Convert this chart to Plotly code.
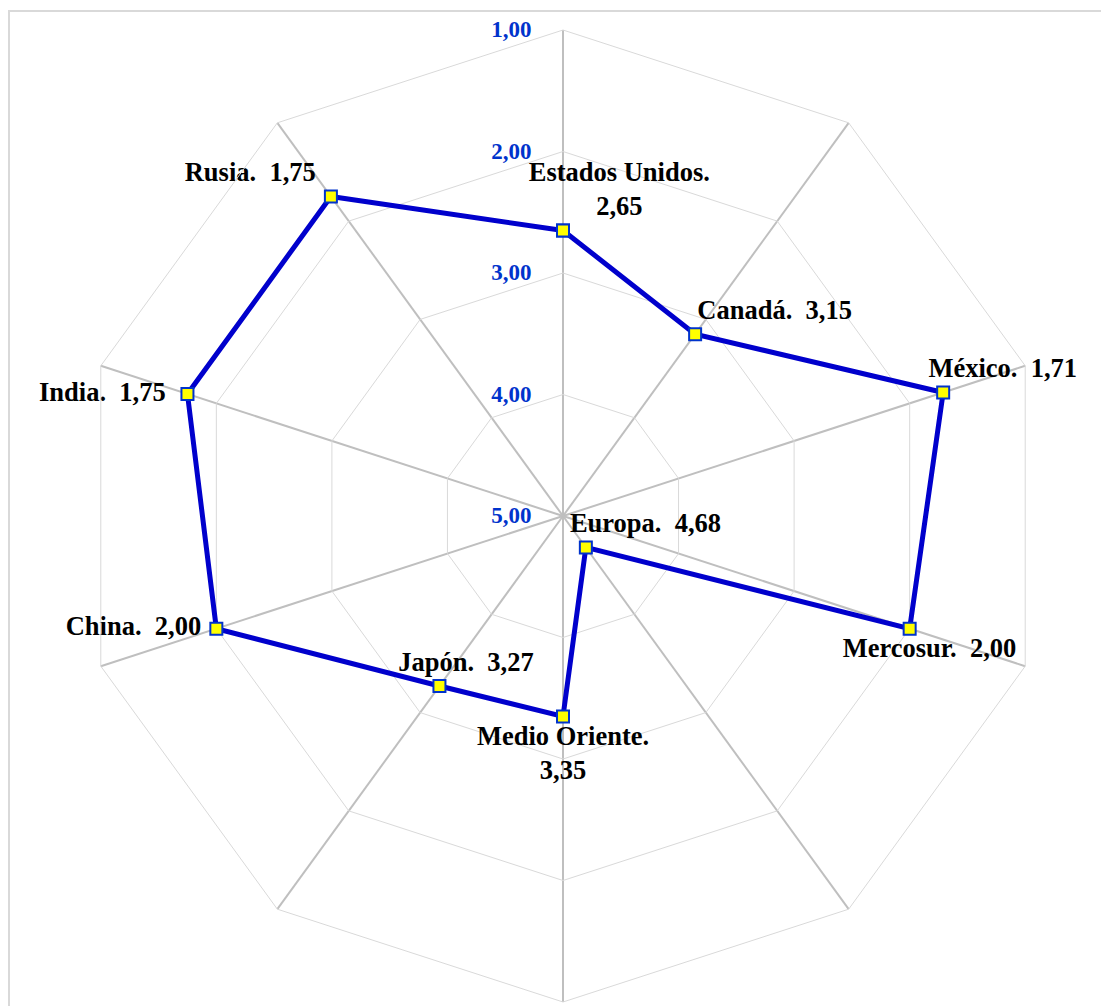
import plotly.graph_objects as go

categories = ["Estados Unidos", "Canadá", "México", "Mercosur", "Europa",
              "Medio Oriente", "Japón", "China", "India", "Rusia"]
values = [2.65, 3.15, 1.71, 2.00, 4.68, 3.35, 3.27, 2.00, 1.75, 1.75]
radial_ticks = [1, 2, 3, 4, 5]

# label placement (style only): textposition, leading pad, trailing pad
label_positions = ["top center", "top center", "top center", "bottom center", "top center",
                   "bottom center", "top center", "middle left", "middle left", "top left"]
lead_pad = [17, 24, 18, 6, 18, 0, 8, 0, 0, 0]
trail_pad = [0, 0, 0, 0, 0, 0, 0, 1, 2, 1]
two_line = ["Estados Unidos", "Medio Oriente"]

NB = "\u00a0"


def fmt(v):
    return f"{v:.2f}".replace(".", ",")


labels = []
for c, v, lp, tp in zip(categories, values, lead_pad, trail_pad):
    pre, post = NB * lp, NB * tp
    if c in two_line:
        labels.append(f"{pre}{c}.{post}<br>{pre}{fmt(v)}{post}")
    else:
        labels.append(f"{pre}{c}.{NB}{NB}{fmt(v)}{post}")

theta = categories + [categories[0]]
r = values + [values[0]]
text = labels + [""]
positions = label_positions + ["top center"]

W, H = 1101, 1006
cx, cy, R = 563, 516, 486

fig = go.Figure()
fig.add_trace(go.Scatterpolar(
    r=r, theta=theta, mode="lines+markers+text",
    text=text, textposition=positions,
    textfont=dict(family="Liberation Serif", size=26.5, color="black", weight="bold"),
    line=dict(color="#0000CC", width=5),
    marker=dict(symbol="square", size=12, color="#FFFF00",
                line=dict(color="#0033CC", width=2)),
    cliponaxis=False,
    showlegend=False,
))

fig.update_layout(
    width=W, height=H,
    margin=dict(l=0, r=0, t=0, b=0),
    paper_bgcolor="white",
    separators=",.",
    polar=dict(
        domain=dict(x=[(cx - R) / W, (cx + R) / W],
                    y=[(H - cy - R) / H, (H - cy + R) / H]),
        gridshape="linear",
        bgcolor="white",
        radialaxis=dict(
            range=[5, 1], tickvals=radial_ticks, tickformat=".2f",
            angle=90, tickangle=90, side="counterclockwise", showline=False,
            ticks="outside", ticklen=23, tickcolor="rgba(0,0,0,0)",
            gridcolor="#D9D9D9", gridwidth=1,
            tickfont=dict(family="Liberation Serif", size=23, color="#0033CC", weight="bold"),
        ),
        angularaxis=dict(
            direction="clockwise", rotation=90, showticklabels=False, ticks="",
            gridcolor="#BFBFBF", gridwidth=1.5,
            showline=True, linecolor="#D9D9D9", linewidth=1,
        ),
    ),
    shapes=[dict(type="rect", xref="paper", yref="paper",
                 x0=9 / W, x1=1.05, y0=-0.05, y1=1 - 11 / H,
                 line=dict(color="#D9D9D9", width=2), layer="below")],
)

fig.write_html("out.html")
